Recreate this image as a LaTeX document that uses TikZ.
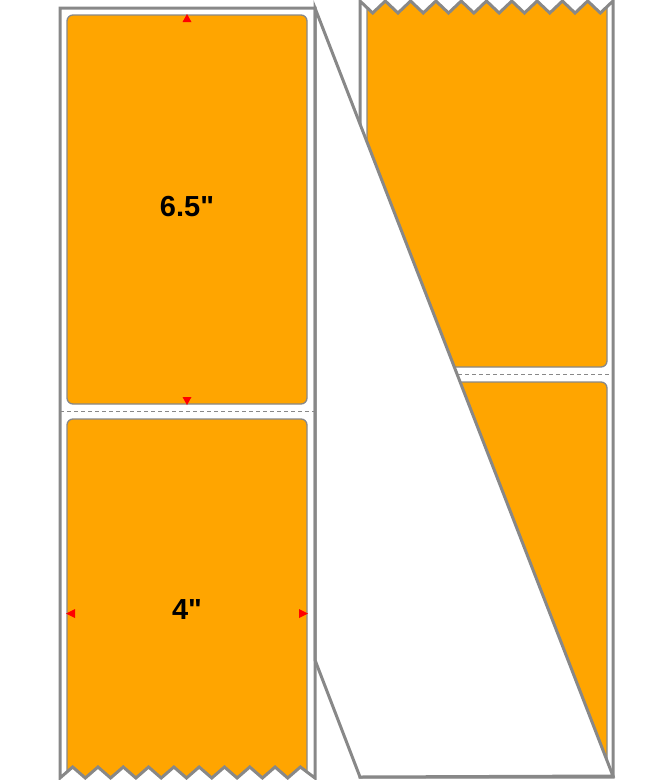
\documentclass[tikz,border=0pt]{standalone}
\usepackage{fontspec}
\setmainfont{Liberation Sans}
\newfontfamily\sizefont{Liberation Sans}
\usetikzlibrary{positioning}
\definecolor{labelorange}{RGB}{255,165,0}
\definecolor{linergray}{RGB}{136,136,136}

\begin{document}
\begin{tikzpicture}[x=1pt, y=-1pt,
    liner/.style={draw=linergray, line width=3pt, line join=miter},
    labelbox/.style={fill=labelorange, draw=linergray, line width=1.3pt, rounded corners=6pt},
    perf/.style={draw=linergray, line width=0.8pt, dash pattern=on 4pt off 3pt},
    marker/.style={fill=red},
    sizetext/.style={font=\sizefont\bfseries\fontsize{29}{29}\selectfont, inner sep=0pt}
]
    \useasboundingbox (0,0) rectangle (660,780);

    % right strip, torn at the top
    \begin{scope}
        \clip (360,1) \foreach \k in {0,...,9} { -- ({372.65+25.3*\k},13) -- ({385.3+25.3*\k},1) }
            -- (613,777) -- (360,777) -- cycle;
        \path[labelbox] (367,-30) rectangle (607,367);
        \path[labelbox] (367,382) rectangle (607,790);
        \path[perf] (360,374) -- (613,374);
    \end{scope}
    \path[liner] (360,1) \foreach \k in {0,...,9} { -- ({372.65+25.3*\k},13) -- ({385.3+25.3*\k},1) }
        -- (613,777) -- (360,777) -- cycle;

    % peeled liner
    \path[liner, fill=white] (315,8) -- (613,776) -- (360,777) -- (315,660) -- cycle;

    % left strip, torn at the bottom
    \begin{scope}
        \clip (60,8) -- (315,8) -- (315,778) \foreach \k in {9,...,0} { -- ({72.65+25.3*\k},767) -- ({60+25.3*\k},778) }
            -- cycle;
        \path[labelbox] (67,15) rectangle (307,404);
        \path[labelbox] (67,419) rectangle (307,810);
        \path[perf] (60,411) -- (315,411);
    \end{scope}
    \path[liner] (60,8) -- (315,8) -- (315,778) \foreach \k in {9,...,0} { -- ({72.65+25.3*\k},767) -- ({60+25.3*\k},778) }
        -- cycle;

    % dimension markers
    \fill[marker] (187,14) -- (191.5,22) -- (182.5,22) -- cycle;
    \fill[marker] (187,405) -- (191.5,397) -- (182.5,397) -- cycle;
    \fill[marker] (66,613.5) -- (75,609) -- (75,618) -- cycle;
    \fill[marker] (308,613.5) -- (299,609) -- (299,618) -- cycle;

    \node[sizetext] (height) at (187,207) {6.5"};
    \node[sizetext] (width) at (187,610) {4"};
\end{tikzpicture}
\end{document}
